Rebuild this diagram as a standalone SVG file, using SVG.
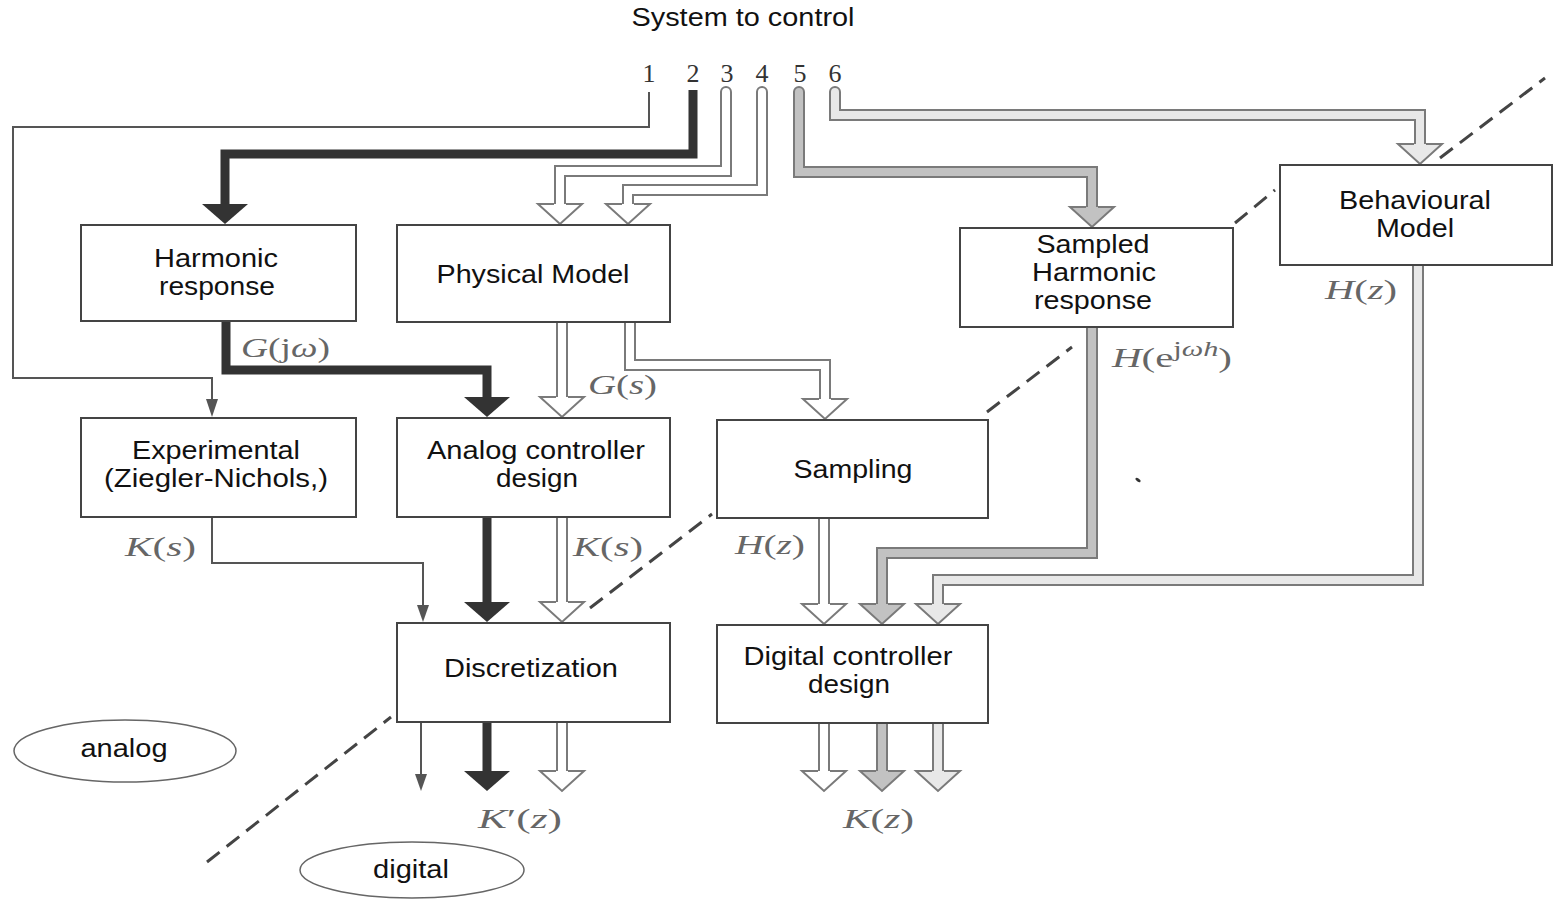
<svg xmlns="http://www.w3.org/2000/svg" width="1553" height="901" viewBox="0 0 1553 901">
<style>
.box{fill:#fff;stroke:#444;stroke-width:2}
.t{font-family:"Liberation Sans",Arial,sans-serif;font-size:25px;fill:#111;text-anchor:middle}
.num{font-family:"Liberation Serif",serif;font-size:26px;fill:#333;text-anchor:middle}
.m{font-family:"Liberation Serif",serif;font-size:27px;fill:#666}
.it{font-style:italic}
.thin{fill:none;stroke:#555;stroke-width:2}
.thick{fill:none;stroke:#333;stroke-width:9}
.o{fill:none;stroke:#7a7a7a;stroke-width:12;stroke-linecap:round}
.iw{fill:none;stroke:#fff;stroke-width:8;stroke-linecap:round}
.ig{fill:none;stroke:#c2c2c2;stroke-width:8;stroke-linecap:round}
.il{fill:none;stroke:#e8e8e8;stroke-width:8;stroke-linecap:round}
.hw{fill:#fff;stroke:#7a7a7a;stroke-width:2}
.hg{fill:#c2c2c2;stroke:#7a7a7a;stroke-width:2}
.hl{fill:#e8e8e8;stroke:#7a7a7a;stroke-width:2}
.hk{fill:#333}
.hs{fill:#555}
.dash{fill:none;stroke:#444;stroke-width:3;stroke-dasharray:16 9}
.ell{fill:none;stroke:#666;stroke-width:1.5}
</style>

<text class="t" x="743" y="26" textLength="223" lengthAdjust="spacingAndGlyphs">System to control</text>
<g id="numbers">
<text class="num" x="649" y="82">1</text>
<text class="num" x="693" y="82">2</text>
<text class="num" x="727" y="82">3</text>
<text class="num" x="762" y="82">4</text>
<text class="num" x="800" y="82">5</text>
<text class="num" x="835" y="82">6</text>
</g>

<g id="connectors">
<path class="thin" d="M649,92 V127 H13 V378 H212 V400"/>
<polygon class="hs" points="206,399 218,399 212,417"/>
<path class="thick" d="M693,90 V154 H225 V205"/>
<polygon class="hk" points="202,204 248,204 225,224"/>
<path class="o" d="M726,92 V171 H560 V204"/>
<path class="iw" d="M726,92 V171 H560 V204"/>
<path class="hw" d="M554,204 H538 L560,224 L582,204 H566"/>
<path class="o" d="M762,92 V190 H628 V204"/>
<path class="iw" d="M762,92 V190 H628 V204"/>
<path class="hw" d="M622,204 H606 L628,224 L650,204 H634"/>
<path class="o" d="M799,92 V172 H1092 V207"/>
<path class="ig" d="M799,92 V172 H1092 V207"/>
<path class="hg" d="M1086,207 H1070 L1092,227 L1114,207 H1098"/>
<path class="o" d="M835,92 V115 H1420 V144"/>
<path class="il" d="M835,92 V115 H1420 V144"/>
<path class="hl" d="M1414,144 H1398 L1420,164 L1442,144 H1426"/>

<path class="thick" d="M226,321 V370 H487 V398"/>
<polygon class="hk" points="464,397 510,397 487,417"/>
<path class="o" d="M562,323 V397"/>
<path class="iw" d="M562,323 V397"/>
<path class="hw" d="M556,397 H540 L562,417 L584,397 H568"/>
<path class="o" d="M630,323 V365 H825 V399"/>
<path class="iw" d="M630,323 V365 H825 V399"/>
<path class="hw" d="M819,399 H803 L825,419 L847,399 H831"/>

<path class="thin" d="M212,518 V563 H423 V606"/>
<polygon class="hs" points="417,605 429,605 423,622"/>
<path class="thick" d="M487,518 V603"/>
<polygon class="hk" points="464,602 510,602 487,622"/>
<path class="o" d="M562,518 V602"/>
<path class="iw" d="M562,518 V602"/>
<path class="hw" d="M556,602 H540 L562,622 L584,602 H568"/>

<path class="o" d="M824,519 V604"/>
<path class="iw" d="M824,519 V604"/>
<path class="hw" d="M818,604 H802 L824,624 L846,604 H830"/>
<path class="o" d="M1092,328 V553 H882 V604"/>
<path class="ig" d="M1092,328 V553 H882 V604"/>
<path class="hg" d="M876,604 H860 L882,624 L904,604 H888"/>
<path class="o" d="M1418,266 V580 H938 V604"/>
<path class="il" d="M1418,266 V580 H938 V604"/>
<path class="hl" d="M932,604 H916 L938,624 L960,604 H944"/>

<path class="thin" d="M421,723 V776"/>
<polygon class="hs" points="415,774 427,774 421,791"/>
<path class="thick" d="M487,723 V772"/>
<polygon class="hk" points="464,771 510,771 487,791"/>
<path class="o" d="M562,723 V771"/>
<path class="iw" d="M562,723 V771"/>
<path class="hw" d="M556,771 H540 L562,791 L584,771 H568"/>

<path class="o" d="M824,724 V771"/>
<path class="iw" d="M824,724 V771"/>
<path class="hw" d="M818,771 H802 L824,791 L846,771 H830"/>
<path class="o" d="M882,724 V771"/>
<path class="ig" d="M882,724 V771"/>
<path class="hg" d="M876,771 H860 L882,791 L904,771 H888"/>
<path class="o" d="M938,724 V771"/>
<path class="il" d="M938,724 V771"/>
<path class="hl" d="M932,771 H916 L938,791 L960,771 H944"/>
</g>

<g id="labels">
<text class="m" x="241" y="357" textLength="89" lengthAdjust="spacingAndGlyphs"><tspan class="it">G</tspan>(j<tspan class="it">ω</tspan>)</text>
<text class="m" x="588" y="394" textLength="69" lengthAdjust="spacingAndGlyphs"><tspan class="it">G</tspan>(<tspan class="it">s</tspan>)</text>
<text class="m" x="125" y="556" textLength="71" lengthAdjust="spacingAndGlyphs"><tspan class="it">K</tspan>(<tspan class="it">s</tspan>)</text>
<text class="m" x="573" y="556" textLength="70" lengthAdjust="spacingAndGlyphs"><tspan class="it">K</tspan>(<tspan class="it">s</tspan>)</text>
<text class="m" x="735" y="554" textLength="70" lengthAdjust="spacingAndGlyphs"><tspan class="it">H</tspan>(<tspan class="it">z</tspan>)</text>
<text class="m" x="1325" y="299" textLength="72" lengthAdjust="spacingAndGlyphs"><tspan class="it">H</tspan>(<tspan class="it">z</tspan>)</text>
<text class="m" x="1112" y="367" textLength="120" lengthAdjust="spacingAndGlyphs"><tspan class="it">H</tspan>(e<tspan dy="-11" font-size="20">j<tspan class="it">ωh</tspan></tspan><tspan dy="11">)</tspan></text>
<text class="m" x="478" y="828" textLength="84" lengthAdjust="spacingAndGlyphs"><tspan class="it">K</tspan>′(<tspan class="it">z</tspan>)</text>
<text class="m" x="843" y="828" textLength="71" lengthAdjust="spacingAndGlyphs"><tspan class="it">K</tspan>(<tspan class="it">z</tspan>)</text>
</g>

<g id="dividers">
<line class="dash" x1="207" y1="862" x2="391" y2="717"/>
<line class="dash" x1="590" y1="608" x2="712" y2="514"/>
<line class="dash" x1="987" y1="412" x2="1072" y2="347"/>
<line class="dash" x1="1235" y1="223" x2="1275" y2="190"/>
<line class="dash" x1="1440" y1="158" x2="1545" y2="78"/>
<ellipse cx="1138" cy="480" rx="3" ry="1.5" fill="#333" transform="rotate(35 1138 480)"/>
</g>

<g id="n-harmonic">
<rect class="box" x="81" y="225" width="275" height="96"/>
<text class="t" x="216" y="267" textLength="124" lengthAdjust="spacingAndGlyphs">Harmonic</text>
<text class="t" x="217" y="295" textLength="116" lengthAdjust="spacingAndGlyphs">response</text>
</g>
<g id="n-physical">
<rect class="box" x="397" y="225" width="273" height="97"/>
<text class="t" x="533" y="283" textLength="193" lengthAdjust="spacingAndGlyphs">Physical Model</text>
</g>
<g id="n-sampled">
<rect class="box" x="960" y="228" width="273" height="99"/>
<text class="t" x="1093" y="253" textLength="113" lengthAdjust="spacingAndGlyphs">Sampled</text>
<text class="t" x="1094" y="281" textLength="124" lengthAdjust="spacingAndGlyphs">Harmonic</text>
<text class="t" x="1093" y="309" textLength="118" lengthAdjust="spacingAndGlyphs">response</text>
</g>
<g id="n-behavioural">
<rect class="box" x="1280" y="165" width="272" height="100"/>
<text class="t" x="1415" y="209" textLength="152" lengthAdjust="spacingAndGlyphs">Behavioural</text>
<text class="t" x="1415" y="237" textLength="78" lengthAdjust="spacingAndGlyphs">Model</text>
</g>
<g id="n-experimental">
<rect class="box" x="81" y="418" width="275" height="99"/>
<text class="t" x="216" y="459" textLength="168" lengthAdjust="spacingAndGlyphs">Experimental</text>
<text class="t" x="216" y="487" textLength="224" lengthAdjust="spacingAndGlyphs">(Ziegler-Nichols,)</text>
</g>
<g id="n-analog">
<rect class="box" x="397" y="418" width="273" height="99"/>
<text class="t" x="536" y="459" textLength="218" lengthAdjust="spacingAndGlyphs">Analog controller</text>
<text class="t" x="537" y="487" textLength="82" lengthAdjust="spacingAndGlyphs">design</text>
</g>
<g id="n-sampling">
<rect class="box" x="717" y="420" width="271" height="98"/>
<text class="t" x="853" y="478" textLength="119" lengthAdjust="spacingAndGlyphs">Sampling</text>
</g>
<g id="n-discretization">
<rect class="box" x="397" y="623" width="273" height="99"/>
<text class="t" x="531" y="677" textLength="174" lengthAdjust="spacingAndGlyphs">Discretization</text>
</g>
<g id="n-digital">
<rect class="box" x="717" y="625" width="271" height="98"/>
<text class="t" x="848" y="665" textLength="209" lengthAdjust="spacingAndGlyphs">Digital controller</text>
<text class="t" x="849" y="693" textLength="82" lengthAdjust="spacingAndGlyphs">design</text>
</g>
<g id="n-analog-region">
<ellipse class="ell" cx="125" cy="751" rx="111" ry="31"/>
<text class="t" x="124" y="757" textLength="87" lengthAdjust="spacingAndGlyphs">analog</text>
</g>
<g id="n-digital-region">
<ellipse class="ell" cx="412" cy="870" rx="112" ry="28"/>
<text class="t" x="411" y="878" textLength="76" lengthAdjust="spacingAndGlyphs">digital</text>
</g>
</svg>
